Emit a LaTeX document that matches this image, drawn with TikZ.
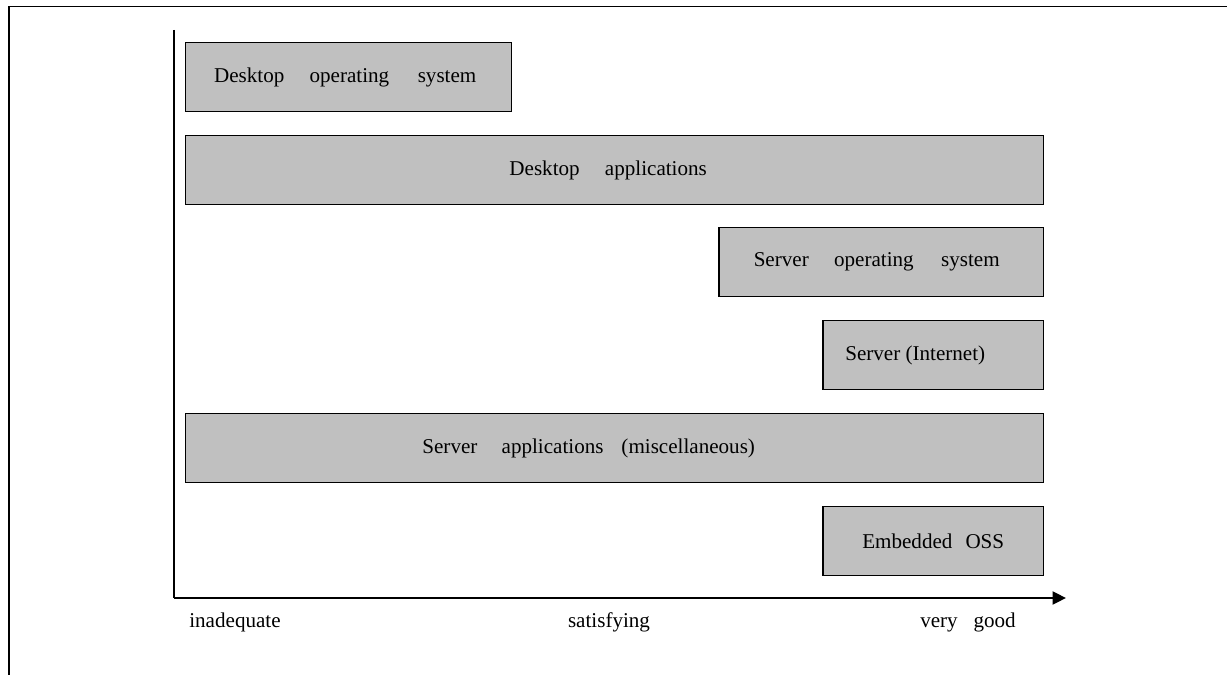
\documentclass[tikz,border=0pt]{standalone}
\usepackage{fontspec}
\setmainfont{Liberation Serif}
\usepackage{xcolor}
\usetikzlibrary{arrows.meta, positioning}

\definecolor{boxgray}{HTML}{C0C0C0}

\begin{document}
\begin{tikzpicture}[x=0.02cm, y=-0.02cm, every node/.style={font=\fontsize{12}{14}\selectfont}]
    \tikzstyle{box} = [rectangle, draw=black, fill=boxgray, line width=0.85pt, minimum height=1.38cm, inner sep=0pt, anchor=north west]
    \tikzstyle{ratinglabel} = [anchor=base, inner sep=0pt]

    \useasboundingbox (0,0) rectangle (1227,675);

    % frame
    \draw[line width=0.8pt] (1227,6.5) -- (9,6.5) -- (9,675);

    % axes
    \coordinate (origin) at (174,598);
    \coordinate (ytop) at (174,30);
    \coordinate (xend) at (1066,598);
    \draw[line width=1.4pt] (ytop) -- (origin);
    \draw[line width=1.4pt, -{Triangle[length=0.27cm, width=0.26cm]}] (origin) -- (xend);

    % areas
    \node[box, minimum width=6.52cm] (deskos) at (185,42) {Desktop\hspace*{1.2em}operating\hspace*{1.35em}system\hspace*{0.14cm}};
    \node[box, minimum width=17.16cm] (deskapp) at (185,135) {Desktop\hspace*{1.2em}applications\hspace*{0.26cm}};
    \node[box, minimum width=6.5cm] (srvos) at (718,227) {Server\hspace*{1.2em}operating\hspace*{1.3em}system\hspace*{0.18cm}};
    \node[box, minimum width=4.42cm] (srvnet) at (822,320) {Server (Internet)\hspace*{0.72cm}};
    \node[box, minimum width=17.16cm] (srvapp) at (185,413) {Server\hspace*{1.15em}applications\hspace*{0.85em}(miscellaneous)\hspace*{1.04cm}};
    \node[box, minimum width=4.42cm] (embed) at (822,506) {Embedded\hspace*{0.62em}OSS};

    % rating labels
    \node[ratinglabel] (inadequate) at (235,627) {inadequate};
    \node[ratinglabel] (satisfying) at (609,627) {satisfying};
    \node[ratinglabel] (verygood) at (968,627) {very\hspace*{0.75em}good};
\end{tikzpicture}
\end{document}
